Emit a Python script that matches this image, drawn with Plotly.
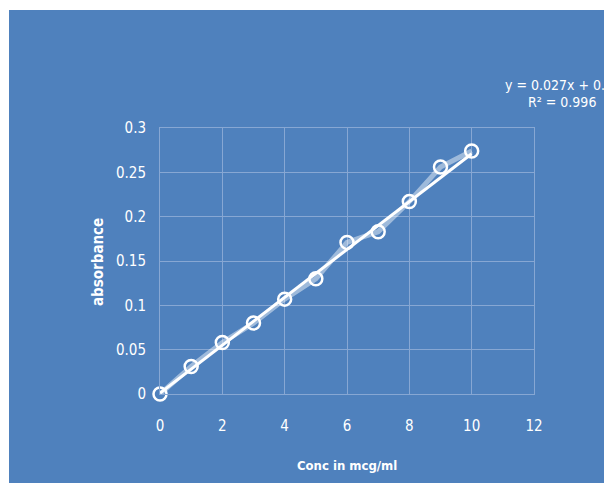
import plotly.graph_objects as go

conc = [0, 1, 2, 3, 4, 5, 6, 7, 8, 9, 10]
absorbance = [0.0, 0.031, 0.058, 0.080, 0.107, 0.130, 0.171, 0.183, 0.217, 0.256, 0.274]
slope = 0.027
intercept = 0.001
trend_x = [0, 10]
trend_y = [slope * v + intercept for v in trend_x]
eq_text = "y = 0.027x + 0.001"
r2_text = "R² = 0.996"
x_ticks = [0, 2, 4, 6, 8, 10, 12]
y_ticks = [0, 0.05, 0.1, 0.15, 0.2, 0.25, 0.3]
y_tick_labels = ["0", "0.05", "0.1", "0.15", "0.2", "0.25", "0.3"]

BLUE = "#4F81BD"
GRID = "#87A7D3"
FONT = "Liberation Sans Narrow, DejaVu Sans Condensed, Arial Narrow, sans-serif"

OFF = 8  # page body margin
W, H = 612, 483
L, R, T, B = 152, 86, 120, 97
pw, ph = W - L - R, H - T - B

def px_x(p):
    return (p - OFF - L) / pw

def px_y(p):
    return (H - B - (p - OFF)) / ph

fig = go.Figure()
fig.add_trace(go.Scatter(x=conc, y=absorbance, mode="lines",
                         line=dict(color="rgba(255,255,255,0.45)", width=5),
                         hoverinfo="skip", showlegend=False))
fig.add_trace(go.Scatter(x=trend_x, y=trend_y, mode="lines",
                         line=dict(color="white", width=3),
                         showlegend=False))
fig.add_trace(go.Scatter(x=conc, y=absorbance, mode="markers", cliponaxis=False,
                         marker=dict(symbol="circle-open", size=13, color="white",
                                     line=dict(color="white", width=2.5)),
                         showlegend=False))

fig.add_shape(type="rect", xref="paper", yref="paper",
              x0=px_x(9), x1=px_x(W + 20), y0=px_y(H + 20), y1=px_y(10),
              fillcolor=BLUE, line=dict(width=0), layer="below")

fig.add_annotation(text=eq_text, xref="paper", yref="paper", x=px_x(503), y=px_y(85),
                   xanchor="left", yanchor="middle", showarrow=False,
                   font=dict(family=FONT, size=14, color="white"))
fig.add_annotation(text=r2_text, xref="paper", yref="paper", x=px_x(562), y=px_y(102),
                   xanchor="center", yanchor="middle", showarrow=False,
                   font=dict(family=FONT, size=14, color="white"))
fig.add_annotation(text="<b>Conc in mcg/ml</b>", xref="paper", yref="paper",
                   x=px_x(347), y=px_y(465), xanchor="center", yanchor="middle",
                   showarrow=False, font=dict(family=FONT, size=13, color="white"))
fig.add_annotation(text="<b>absorbance</b>", xref="paper", yref="paper",
                   x=px_x(98), y=px_y(262), xanchor="center", yanchor="middle",
                   textangle=-90, showarrow=False,
                   font=dict(family=FONT, size=15, color="white"))

fig.update_layout(
    width=W, height=H,
    margin=dict(l=L, r=R, t=T, b=B, pad=0),
    paper_bgcolor="white",
    plot_bgcolor=BLUE,
    font=dict(family=FONT, size=15, color="white"),
    showlegend=False,
)
fig.update_xaxes(range=[0, 12], tickvals=x_ticks, showgrid=True, gridcolor=GRID,
                 gridwidth=1, zeroline=False, showline=True, linecolor=GRID,
                 mirror=True, ticks="", ticklabelstandoff=18,
                 tickfont=dict(family=FONT, size=15, color="white"))
fig.update_yaxes(range=[0, 0.3], tickvals=y_ticks, ticktext=y_tick_labels,
                 showgrid=True, gridcolor=GRID, gridwidth=1, zeroline=False,
                 showline=True, linecolor=GRID, mirror=True, ticks="",
                 ticklabelstandoff=10,
                 tickfont=dict(family=FONT, size=15, color="white"))

fig.write_html("out.html")
